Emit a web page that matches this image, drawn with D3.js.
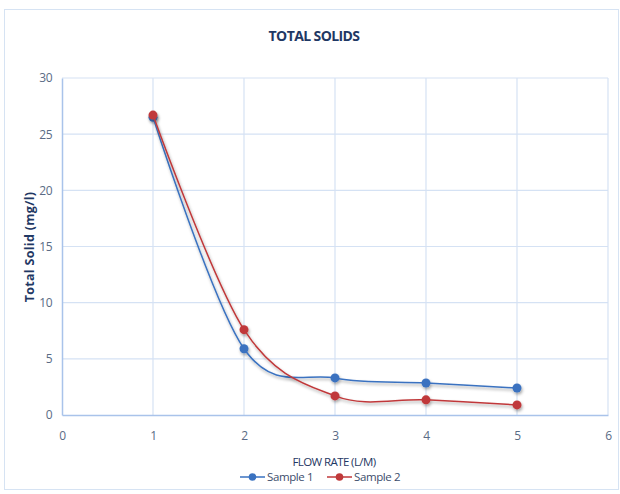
<!DOCTYPE html>
<html>
<head>
<meta charset="utf-8">
<script src="https://cdn.jsdelivr.net/npm/d3@7"></script>
<style>
  body { margin: 0; background: #fff; }
  text { font-family: "Open Sans", "Noto Sans", sans-serif; }
</style>
</head>
<body>
<svg width="620" height="494"></svg>
<script>
var flowRate = [1, 2, 3, 4, 5];
var sample1 = [26.5, 5.9, 3.3, 2.85, 2.4];
var sample2 = [26.7, 7.6, 1.7, 1.35, 0.9];
var xTicks = [0, 1, 2, 3, 4, 5, 6];
var yTicks = [0, 5, 10, 15, 20, 25, 30];
var seriesNames = ["Sample 1", "Sample 2"];
var seriesColors = ["#3a72c0", "#c0393a"];

var svg = d3.select("svg"),
    width = +svg.attr("width"),
    height = +svg.attr("height");

var margin = {top: 78, right: 12, bottom: 79, left: 62};

var x = d3.scaleLinear().domain([0, 6]).range([margin.left, width - margin.right]);
var y = d3.scaleLinear().domain([0, 30]).range([height - margin.bottom, margin.top]);

// drop shadow for markers / lines
var defs = svg.append("defs");
var f = defs.append("filter").attr("id", "shadow").attr("x", "-50%").attr("y", "-50%").attr("width", "200%").attr("height", "200%");
f.append("feDropShadow").attr("dx", 1).attr("dy", 2).attr("stdDeviation", 1.5).attr("flood-color", "#000").attr("flood-opacity", 0.35);

// outer chart border
svg.append("rect")
    .attr("x", 4.5).attr("y", 9.5)
    .attr("width", 614).attr("height", 480)
    .attr("fill", "#fff")
    .attr("stroke", "#d6e3f3");

// gridlines
svg.append("g").selectAll("line")
    .data(yTicks.slice(1))
  .enter().append("line")
    .attr("x1", x(0)).attr("x2", x(6))
    .attr("y1", function(d) { return y(d); })
    .attr("y2", function(d) { return y(d); })
    .attr("stroke", "#d5e2f4").attr("stroke-width", 1.2);

svg.append("g").selectAll("line")
    .data(xTicks.slice(1))
  .enter().append("line")
    .attr("y1", y(0)).attr("y2", y(30))
    .attr("x1", function(d) { return x(d); })
    .attr("x2", function(d) { return x(d); })
    .attr("stroke", "#d5e2f4").attr("stroke-width", 1.2);

// axes
var xAxis = svg.append("g")
    .attr("transform", "translate(0," + y(0) + ")")
    .call(d3.axisBottom(x).tickValues(xTicks).tickFormat(d3.format("d")).tickSize(0).tickPadding(16));
var yAxis = svg.append("g")
    .attr("transform", "translate(" + x(0) + ",0)")
    .call(d3.axisLeft(y).tickValues(yTicks).tickFormat(d3.format("d")).tickSize(0).tickPadding(10));

[xAxis, yAxis].forEach(function(a) {
  a.select(".domain").attr("stroke", "#a9c3ea").attr("stroke-width", 1.5);
  a.selectAll("text").attr("fill", "#5a6b85").attr("font-size", 12).attr("letter-spacing", -0.5);
});

// lines
var line = d3.line()
    .x(function(d) { return x(d[0]); })
    .y(function(d) { return y(d[1]); })
    .curve(d3.curveCatmullRom.alpha(0));

var series = [sample1, sample2].map(function(vals) {
  return flowRate.map(function(fr, i) { return [fr, vals[i]]; });
});

var g = svg.append("g").selectAll("g")
    .data(series)
  .enter().append("g")
    .attr("filter", "url(#shadow)");

g.append("path")
    .attr("d", line)
    .attr("fill", "none")
    .attr("stroke", function(d, i) { return seriesColors[i]; })
    .attr("stroke-width", 1.5);

g.selectAll("circle")
    .data(function(d, i) { return d.map(function(p) { return {p: p, i: i}; }); })
  .enter().append("circle")
    .attr("cx", function(d) { return x(d.p[0]); })
    .attr("cy", function(d) { return y(d.p[1]); })
    .attr("r", 4.5)
    .attr("fill", function(d) { return seriesColors[d.i]; });

// titles
svg.append("text")
    .attr("x", 314).attr("y", 41)
    .attr("text-anchor", "middle")
    .attr("font-size", 14).attr("font-weight", "bold")
    .attr("fill", "#1f3864")
    .attr("letter-spacing", -0.6)
    .text("TOTAL SOLIDS");

svg.append("text")
    .attr("transform", "translate(34,247) rotate(-90)")
    .attr("text-anchor", "middle")
    .attr("font-size", 12.5).attr("font-weight", "bold")
    .attr("fill", "#1f3864")
    .attr("letter-spacing", 0.3)
    .text("Total Solid  (mg/l)");

svg.append("text")
    .attr("x", 334).attr("y", 466)
    .attr("text-anchor", "middle")
    .attr("font-size", 11.5)
    .attr("fill", "#1f3864")
    .attr("letter-spacing", -0.6)
    .text("FLOW RATE (L/M)");

// legend
var legend = svg.append("g").selectAll("g")
    .data(seriesNames)
  .enter().append("g")
    .attr("transform", function(d, i) { return "translate(" + (240 + i * 87) + ",477)"; });

legend.append("line")
    .attr("x1", 0).attr("x2", 25)
    .attr("stroke", function(d, i) { return seriesColors[i]; })
    .attr("stroke-width", 1.5);
legend.append("circle")
    .attr("cx", 12.5).attr("r", 3.8)
    .attr("fill", function(d, i) { return seriesColors[i]; });
legend.append("text")
    .attr("x", 27).attr("dy", "0.35em")
    .attr("font-size", 11.5)
    .attr("fill", "#3b4c6b")
    .attr("letter-spacing", -0.4)
    .text(function(d) { return d; });
</script>
</body>
</html>
